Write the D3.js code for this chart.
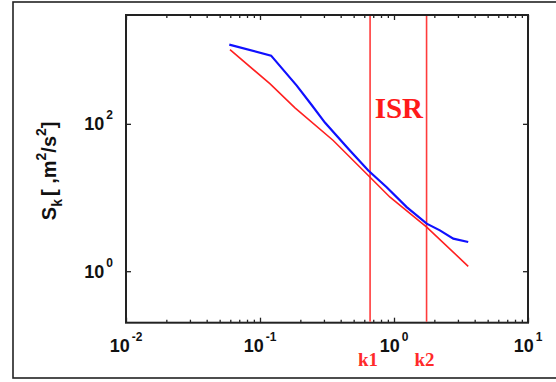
<!DOCTYPE html>
<html><head><meta charset="utf-8">
<script src="https://cdn.jsdelivr.net/npm/d3@7"></script>
<style>body{margin:0;background:#fff}svg{display:block}</style>
</head><body>
<script>
// Data
const kBlue = [0.059, 0.121, 0.188, 0.243, 0.305, 0.456, 0.643, 0.882, 1.244, 1.754, 2.20, 2.77, 3.58];
const sBlue = [1187, 842, 330, 180, 104, 45.8, 23.3, 13.8, 7.41, 4.42, 3.58, 2.77, 2.49];
const kRed = [0.0597, 0.119, 0.1824, 0.352, 0.643, 0.934, 1.754, 3.58];
const sRed = [1016, 348, 165, 59.4, 19.9, 10.1, 3.97, 1.165];
const kLines = [0.663, 1.75];
const kLineLabels = ["k1", "k2"];
const xTickExp = [-2, -1, 0, 1];
const yTickExp = [0, 2];
const regionLabel = "ISR";

const W = 556, H = 382;
const L = 126, R = 528, T = 15, B = 322.7;
const svg = d3.select("body").append("svg").attr("width", W).attr("height", H);

const x = d3.scaleLog().domain([0.01, 10]).range([L, R]);
const y = d3.scaleLog().domain([0.2, 3000]).range([B, T]);

// outer frame
svg.append("rect").attr("x", 13).attr("y", 2).attr("width", 560).attr("height", 376)
  .attr("fill", "none").attr("stroke", "#222").attr("stroke-width", 1.6);

const sans = "'Liberation Sans', Arial, sans-serif";
const serif = "'Liberation Serif', 'Times New Roman', serif";

// minor x ticks
const minor = [];
for (let e = -2; e < 1; e++) for (let m = 2; m <= 9; m++) minor.push(m * Math.pow(10, e));
const majorX = xTickExp.map(e => Math.pow(10, e));
const majorY = yTickExp.map(e => Math.pow(10, e));

function styleAxis(g){ g.select(".domain").remove(); g.selectAll("line").attr("stroke","#222").attr("stroke-width",1.3); g.selectAll("text").remove(); }

svg.append("g").attr("transform",`translate(0,${B})`).call(d3.axisBottom(x).tickValues(minor).tickSize(-3)).call(styleAxis);
svg.append("g").attr("transform",`translate(0,${B})`).call(d3.axisBottom(x).tickValues(majorX).tickSize(-5)).call(styleAxis);
svg.append("g").attr("transform",`translate(0,${T})`).call(d3.axisTop(x).tickValues(minor).tickSize(-3)).call(styleAxis);
svg.append("g").attr("transform",`translate(0,${T})`).call(d3.axisTop(x).tickValues(majorX).tickSize(-5)).call(styleAxis);
svg.append("g").attr("transform",`translate(${L},0)`).call(d3.axisLeft(y).tickValues(majorY).tickSize(-5)).call(styleAxis);
svg.append("g").attr("transform",`translate(${R},0)`).call(d3.axisRight(y).tickValues(majorY).tickSize(-5)).call(styleAxis);

// plot box
svg.append("rect").attr("x", L).attr("y", T).attr("width", R - L).attr("height", B - T)
  .attr("fill", "none").attr("stroke", "#222").attr("stroke-width", 2);

// x tick labels
xTickExp.forEach(e => {
  const t = svg.append("text").attr("x", x(Math.pow(10, e))).attr("y", 352)
    .attr("text-anchor", "middle").attr("font-family", sans).attr("font-weight", "bold")
    .attr("font-size", 18).attr("fill", "#111");
  t.append("tspan").text("10");
  t.append("tspan").attr("dy", -11).attr("dx", 2).attr("font-size", 12).text(String(e));
});
// y tick labels
yTickExp.forEach(e => {
  const t = svg.append("text").attr("x", 113).attr("y", y(Math.pow(10, e)) + 6.5)
    .attr("text-anchor", "end").attr("font-family", sans).attr("font-weight", "bold")
    .attr("font-size", 18).attr("fill", "#111");
  t.append("tspan").text("10");
  t.append("tspan").attr("dy", -11).attr("dx", 2).attr("font-size", 12).text(e);
});

// y axis title
const yt = svg.append("text").attr("transform", `translate(56,${(T + B) / 2 + 2}) rotate(-90)`)
  .attr("text-anchor", "middle").attr("font-family", sans).attr("font-weight", "bold")
  .attr("font-size", 20).attr("fill", "#111");
yt.append("tspan").text("S");
yt.append("tspan").attr("dy", 6).attr("font-size", 14).text("k");
yt.append("tspan").attr("dy", -6).attr("dx", 3).text("[  ,m");
yt.append("tspan").attr("dy", -10).attr("font-size", 14).text("2");
yt.append("tspan").attr("dy", 10).text("/s");
yt.append("tspan").attr("dy", -10).attr("font-size", 14).text("2");
yt.append("tspan").attr("dy", 10).text("]");

// vertical k lines
kLines.forEach((k, i) => {
  svg.append("line").attr("x1", x(k)).attr("x2", x(k)).attr("y1", T + 1).attr("y2", B - 1)
    .attr("stroke", "#ff3b3b").attr("stroke-width", 1.6);
  svg.append("text").attr("x", x(k) - 2).attr("y", 366).attr("text-anchor", "middle")
    .attr("font-family", serif).attr("font-weight", "bold").attr("font-size", 19)
    .attr("fill", "#ff2a2a").text(kLineLabels[i]);
});

// ISR label
svg.append("text").attr("x", (x(kLines[0]) + x(kLines[1])) / 2 + 0.5).attr("y", 117.5)
  .attr("text-anchor", "middle").attr("font-family", serif).attr("font-weight", "bold")
  .attr("font-size", 29).attr("fill", "#ff1a1a").text(regionLabel);

const line = d3.line().x(d => x(d[0])).y(d => y(d[1]));
svg.append("path").datum(kRed.map((k, i) => [k, sRed[i]])).attr("d", line)
  .attr("fill", "none").attr("stroke", "#ff2020").attr("stroke-width", 1.6);
svg.append("path").datum(kBlue.map((k, i) => [k, sBlue[i]])).attr("d", line)
  .attr("fill", "none").attr("stroke", "#1010ff").attr("stroke-width", 2.2);
</script>
</body></html>
